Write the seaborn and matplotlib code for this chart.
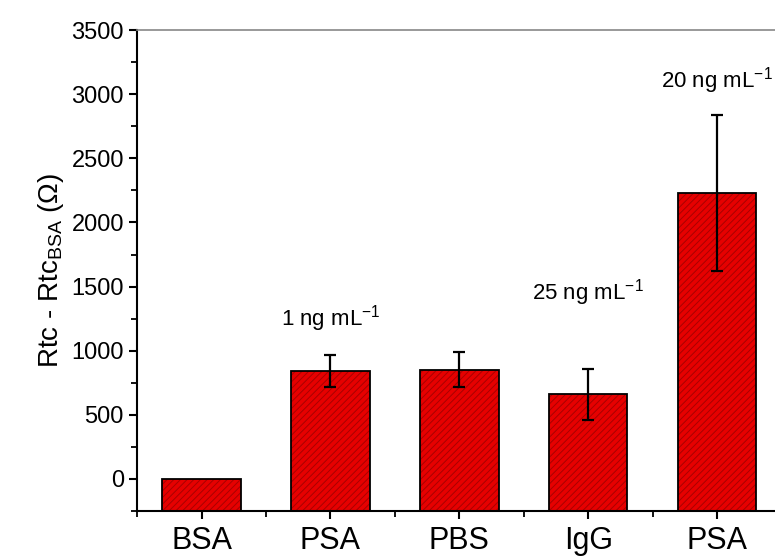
import numpy as np
import pandas as pd
import matplotlib
matplotlib.use("Agg")
import matplotlib.pyplot as plt
import matplotlib.colors as mcolors
from matplotlib.ticker import MultipleLocator
import seaborn as sns

# data
keys = ["BSA", "PSA_1", "PBS", "IgG", "PSA_20"]
tick_labels = ["BSA", "PSA", "PBS", "IgG", "PSA"]
values = [0, 845, 853, 660, 2228]
errors = [0, 125, 133, 200, 607]
notes = ["", "1 ng mL$^{\\mathregular{-1}}$", "", "25 ng mL$^{\\mathregular{-1}}$",
         "20 ng mL$^{\\mathregular{-1}}$"]
note_y = [0, 1250, 0, 1450, 3110]

y_min, y_max = -250, 3500

sns.set_style("ticks")
plt.rcParams['font.family'] = ['Liberation Sans', 'DejaVu Sans']
plt.rcParams['text.color'] = 'black'
plt.rcParams['axes.labelcolor'] = 'black'
plt.rcParams['xtick.color'] = 'black'
plt.rcParams['ytick.color'] = 'black'
plt.rcParams['hatch.linewidth'] = 0.7

df = pd.DataFrame({"key": keys, "value": values})
df["height"] = df["value"] - y_min

fig = plt.figure(figsize=(7.75, 5.59), dpi=100)
ax = fig.add_axes([0.177, 0.086, 0.823, 0.86])

sns.barplot(data=df, x="key", y="height", order=keys, color="#e60000",
            saturation=1, width=0.61, edgecolor="black", linewidth=1.3,
            hatch="/////", bottom=y_min, errorbar=None, ax=ax)

# dark red hatch lines, black outline
for p in ax.patches:
    if hasattr(p, "set_hatchcolor"):
        p.set_hatchcolor("#a80000")
    else:
        p._hatch_color = mcolors.to_rgba("#a80000")

ax.errorbar(range(len(keys))[1:], values[1:], yerr=errors[1:], fmt="none",
            ecolor="black", elinewidth=1.6, capsize=4, capthick=1.6)

for i, (txt, yy) in enumerate(zip(notes, note_y)):
    if txt:
        ax.text(i, yy, txt, ha="center", va="center", fontsize=16)

ax.set_ylim(y_min, y_max)
ax.set_xlim(-0.5, 4.45)
ax.set_xticks(range(len(keys)))
ax.set_xticklabels(tick_labels, fontsize=22)
ax.xaxis.set_minor_locator(MultipleLocator(1, offset=0.5))
ax.yaxis.set_major_locator(MultipleLocator(500))
ax.yaxis.set_minor_locator(MultipleLocator(250))
ax.tick_params(axis="y", labelsize=17)
ax.tick_params(which="major", length=6, width=1.5, direction="out")
ax.tick_params(which="minor", length=4, width=1.3, direction="out")
ax.tick_params(axis="x", which="major", pad=5)

ax.set_xlabel("")
ax.set_ylabel("Rtc - Rtc$_{\\mathregular{BSA}}$ ($\\mathregular{\\Omega}$)", fontsize=20)

for s in ["left", "bottom"]:
    ax.spines[s].set_linewidth(1.5)
    ax.spines[s].set_color("black")
ax.spines["top"].set_color("#888888")
ax.spines["top"].set_linewidth(1.2)
ax.spines["right"].set_visible(False)

fig.savefig("out.png", dpi=100)
